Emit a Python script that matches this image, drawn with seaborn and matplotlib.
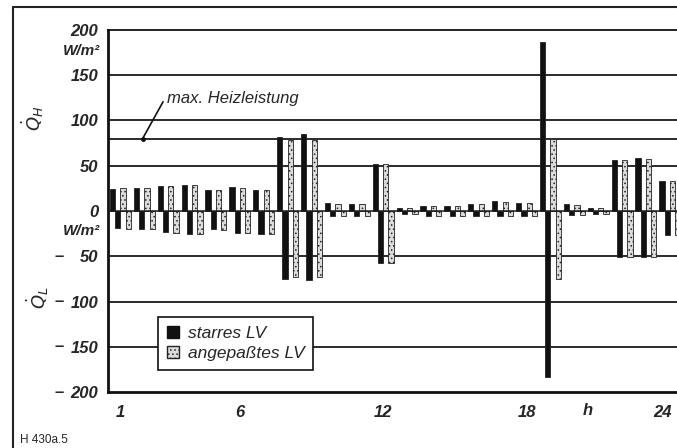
import pandas as pd
import seaborn as sns
import matplotlib.pyplot as plt
from matplotlib.patches import Patch
from matplotlib.lines import Line2D
import matplotlib.transforms as mtransforms

# Stundenwerte (W/m2)
hours = list(range(1, 25))
starr_H = [24, 25, 28, 29, 23, 26, 23, 82, 85, 9, 8, 52, 3, 5, 6, 8, 11, 9, 187, 8, 3, 56, 59, 33]
anp_H = [25, 25, 28, 29, 23, 25, 23, 78, 78, 8, 8, 52, 3, 5, 6, 8, 10, 9, 80, 7, 3, 56, 58, 33]
starr_L = [19, 20, 23, 25, 20, 24, 25, 75, 76, 6, 5, 57, 3, 5, 5, 6, 6, 5, 183, 4, 3, 51, 51, 26]
anp_L = [20, 20, 24, 25, 21, 24, 25, 73, 73, 6, 5, 58, 3, 5, 5, 6, 6, 5, 75, 4, 3, 51, 51, 26]

y_ticks = [200, 150, 100, 50, 0, -50, -100, -150, -200]
x_ticks = [1, 6, 12, 18, 24]
grid_lines = [150, 100, 80, 50, -50, -100, -150]

series = ["starr_H", "starr_L", "anp_H", "anp_L"]
df = pd.DataFrame({
    "hour": hours * 4,
    "series": [s for s in series for _ in hours],
    "value": starr_H + [-v for v in starr_L] + anp_H + [-v for v in anp_L],
})

sns.set_style("white")
plt.rcParams['font.family'] = ['Liberation Sans', 'DejaVu Sans']
plt.rcParams['hatch.linewidth'] = 0.6

fig = plt.figure(figsize=(6.77, 4.48), dpi=100)
ax = fig.add_axes([108 / 677, 56 / 448, 569 / 677, 362 / 448])

# grid lines behind the bars
for g in grid_lines:
    ax.axhline(g, color="#1a1a1a", lw=1.3, zorder=0)
ax.axhline(0, color="#1a1a1a", lw=1.1, zorder=3)

sns.barplot(data=df, x="hour", y="value", hue="series", hue_order=series,
            palette=["#111111", "#111111", "#dcdcdc", "#dcdcdc"],
            native_scale=True, dodge=True, width=0.88, errorbar=None,
            saturation=1, legend=False, edgecolor="#222222", linewidth=0.6,
            ax=ax, zorder=2)
for cont in ax.containers[2:]:
    for p in cont:
        p.set_hatch("....")

ax.set_xlim(0.48, 24.3)
ax.set_ylim(-200, 200)
ax.set_xlabel("")
ax.set_ylabel("")

for side in ["left", "bottom", "top"]:
    ax.spines[side].set_visible(True)
    ax.spines[side].set_color("#111111")
ax.spines["left"].set_linewidth(2)
ax.spines["bottom"].set_linewidth(2)
ax.spines["top"].set_linewidth(1.3)
ax.spines["right"].set_visible(False)

ax.set_yticks(y_ticks)
ax.set_yticklabels([str(abs(t)) for t in y_ticks], fontsize=12, fontweight="bold", fontstyle="italic")
ax.set_xticks(x_ticks)
ax.set_xticklabels([str(t) for t in x_ticks], fontsize=12, fontweight="bold", fontstyle="italic")
ax.tick_params(axis="both", length=0)
ax.tick_params(axis="y", pad=7)
ax.tick_params(axis="x", pad=9)

# the last label sits a little left of its bar group, as in the original
last = ax.get_xticklabels()[-1]
last.set_transform(last.get_transform() + mtransforms.ScaledTranslation(-7 / 100, 0, fig.dpi_scale_trans))

# minus signs, set apart from the numbers
dash_tr = mtransforms.blended_transform_factory(fig.transFigure, ax.transData)
for t in y_ticks:
    if t < 0:
        fig.text(59 / 677, t, "–", transform=dash_tr, ha="center", va="center",
                 fontsize=12, fontweight="bold")

ytr = mtransforms.blended_transform_factory(ax.transAxes, ax.transData)
ax.text(-0.014, 177, "W/m²", transform=ytr, ha="right", va="center",
        fontsize=11, fontweight="bold", fontstyle="italic")
ax.text(-0.014, -22, "W/m²", transform=ytr, ha="right", va="center",
        fontsize=11, fontweight="bold", fontstyle="italic")

fig.text(33 / 677, 1 - 118 / 448, r"$\dot{Q}_H$", rotation=90, ha="center", va="center", fontsize=13)
fig.text(38 / 677, 1 - 298 / 448, r"$\dot{Q}_L$", rotation=90, ha="center", va="center", fontsize=13)

# Annotation max. Heizleistung
ax.annotate("max. Heizleistung", xy=(1.93, 80), xytext=(2.95, 124),
            fontsize=12, fontstyle="italic", ha="left", va="center",
            arrowprops=dict(arrowstyle="-", color="#111111", lw=1.2,
                            shrinkA=0, shrinkB=0, relpos=(-0.03, 0.3)))
ax.plot([1.93], [80], "o", color="#111111", ms=2.5, zorder=4)

xtr = ax.get_xaxis_transform()
ax.text(20.56, -0.05, "h", transform=xtr, ha="center", va="center",
        fontsize=12, fontweight="bold", fontstyle="italic")

leg = ax.legend(handles=[Patch(facecolor="#111111", edgecolor="#111111"),
                         Patch(facecolor="#dcdcdc", edgecolor="#222222", hatch="....")],
                labels=["starres LV", "angepaßtes LV"],
                loc="lower left", bbox_to_anchor=(0.088, 0.061), borderaxespad=0,
                frameon=True, fancybox=False, framealpha=1, edgecolor="#111111",
                prop={"size": 12.5, "style": "italic"}, handlelength=0.7, handleheight=0.7,
                handletextpad=0.5, labelspacing=0.3, borderpad=0.5)
leg.get_frame().set_linewidth(1.2)
leg.set_zorder(5)

# outer frame of the figure
fig.add_artist(Line2D([13 / 677, 1], [1 - 7 / 448, 1 - 7 / 448], color="#222222", lw=1.5))
fig.add_artist(Line2D([13 / 677, 13 / 677], [0, 1 - 7 / 448], color="#222222", lw=1.5))

fig.text(20 / 677, 8 / 448, "H 430a.5", fontsize=8.5, ha="left", va="center")

fig.savefig("out.png", dpi=100)
